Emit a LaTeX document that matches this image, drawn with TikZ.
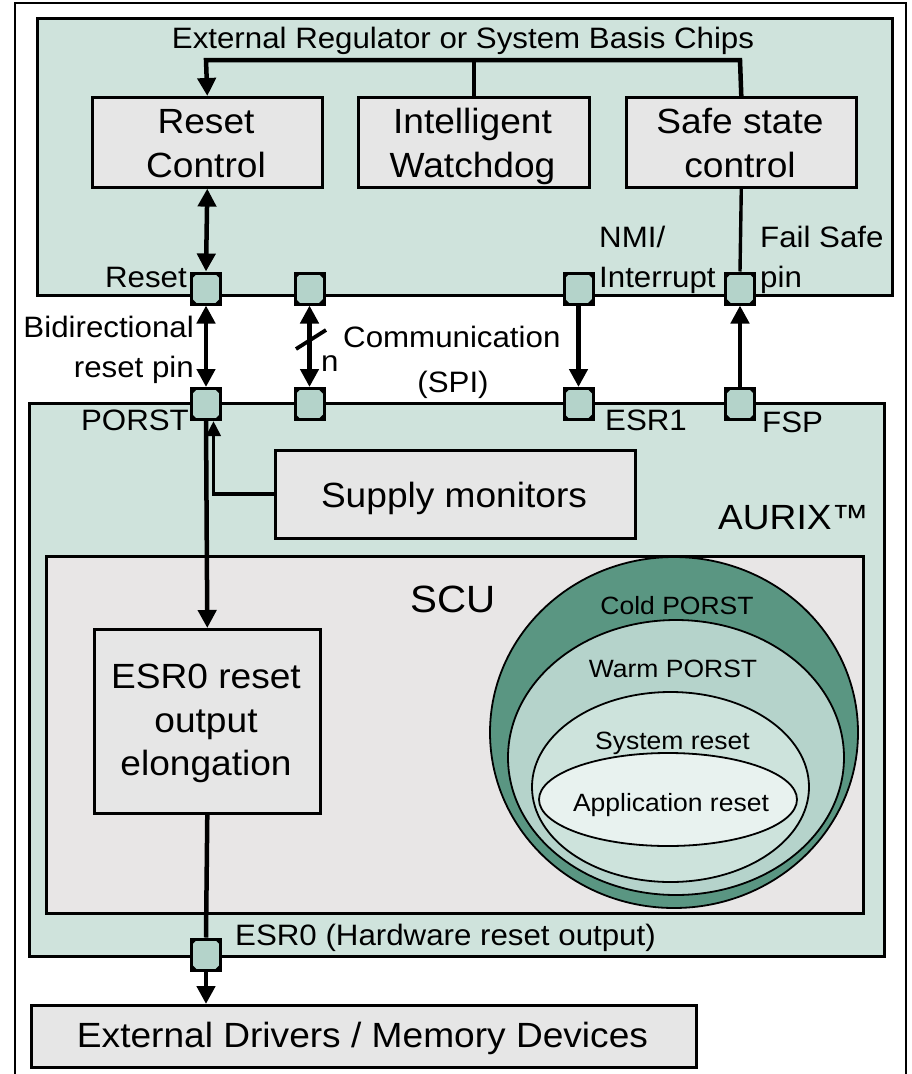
\documentclass[tikz,border=0pt]{standalone}
\usepackage{fontspec}
\setmainfont{Liberation Sans}[FakeStretch=1.06]
\usetikzlibrary{arrows.meta,shapes.geometric}
\definecolor{panel}{HTML}{CFE3DC}
\definecolor{boxg}{HTML}{E6E6E6}
\definecolor{scug}{HTML}{E8E6E6}
\definecolor{pinf}{HTML}{B4D3CA}
\definecolor{cold}{HTML}{5A9682}
\definecolor{warm}{HTML}{B5D3CB}
\definecolor{sysr}{HTML}{CDE3DC}
\definecolor{appr}{HTML}{E8F2EF}
\newcommand{\fsB}{\fontsize{35}{42}\selectfont}
\newcommand{\fsL}{\fontsize{29.5}{35}\selectfont}
\newcommand{\fsC}{\fontsize{25}{30}\selectfont}
\newcommand{\fsS}{\fontsize{38}{44}\selectfont}
\begin{document}
\begin{tikzpicture}[x=1pt,y=-1pt,
  panelbox/.style={draw=black,line width=2.6pt,fill=panel,inner sep=0pt,anchor=north west},
  graybox/.style={draw=black,line width=2.6pt,fill=boxg,inner sep=0pt,anchor=north west},
  pinbox/.style={draw=black,line width=3pt,fill=pinf,inner sep=0pt,minimum width=29pt,minimum height=31pt,
    path picture={
      \fill[black] (path picture bounding box.north west) -- ++(6,0) -- ++(-6,6) -- cycle;
      \fill[black] (path picture bounding box.north east) -- ++(-6,0) -- ++(6,6) -- cycle;
      \fill[black] (path picture bounding box.south west) -- ++(6,0) -- ++(-6,-6) -- cycle;
      \fill[black] (path picture bounding box.south east) -- ++(-6,0) -- ++(6,-6) -- cycle;}},
  ring/.style={ellipse,draw=black,line width=1.8pt,inner sep=0pt},
  txt/.style={inner sep=0pt,anchor=base},
  arr/.style={line width=4.5pt,-{Triangle[length=18pt,width=18pt]}},
  sarr/.style={line width=3.8pt,-{Triangle[length=15pt,width=14pt]}},
  dbl/.style={line width=4.5pt,{Triangle[length=18pt,width=18pt]}-{Triangle[length=18pt,width=18pt]}},
  wire/.style={line width=3.4pt}
]
\useasboundingbox (0,0) rectangle (912,1074);
\fill[white] (0,0) rectangle (912,1074);
% outer frame
\draw[line width=2.4pt] (15,1080) -- (15,3) -- (906,3) -- (906,1080);

% panels
\node[panelbox,minimum width=855pt,minimum height=553pt] (aurix) at (28,402) {};
\node[panelbox,minimum width=855pt,minimum height=277pt] (ext_reg) at (36,17) {};
\node[graybox,fill=scug,minimum width=817pt,minimum height=357pt] (scu) at (45,555) {};

% reset rings
\node[ring,fill=cold,minimum width=368pt,minimum height=351pt] (cold) at (674,732.5) {};
\node[ring,fill=warm,minimum width=336pt,minimum height=275pt] (warm) at (676,757.5) {};
\node[ring,fill=sysr,minimum width=277pt,minimum height=190pt] (sys) at (670.5,787) {};
\node[ring,fill=appr,minimum width=258pt,minimum height=93pt] (app) at (668,799.5) {};

% boxes
\node[graybox,minimum width=230pt,minimum height=90pt] (rc) at (91,96) {};
\node[graybox,minimum width=231pt,minimum height=90pt] (wd) at (357,96) {};
\node[graybox,minimum width=230pt,minimum height=90pt] (ss) at (625,96) {};
\node[graybox,minimum width=360pt,minimum height=88pt] (sm) at (274,449) {};
\node[graybox,minimum width=226pt,minimum height=184pt] (eb) at (93,628) {};
\node[graybox,minimum width=665pt,minimum height=62pt] (ext) at (30,1004) {};

% pin positions (named)
\node[pinbox] (p1t) at (206,288.5) {};
\node[pinbox] (p2t) at (309.5,288.5) {};
\node[pinbox] (p3t) at (578.5,288.5) {};
\node[pinbox] (p4t) at (740,288.5) {};
\node[pinbox] (p1b) at (206,404) {};
\node[pinbox] (p2b) at (309.5,404) {};
\node[pinbox] (p3b) at (578.5,404) {};
\node[pinbox] (p4b) at (740,404) {};
\node[pinbox] (pe) at (206,954.5) {};

% connectors
\coordinate (busL) at (206,60);
\coordinate (busR) at (740,60);
\coordinate (smk) at (213.5,421);
\draw[arr] (ss.north) -- (busR) -- (busL) -- (rc.north);
\draw[wire] (wd.north) -- (wd.north |- busL);
\draw[dbl] (rc.south) -- (p1t.north);
\draw[wire] (ss.south) -- (p4t.north);
\draw[dbl] (p1t.south) -- (p1b.north);
\draw[dbl] (p2t.south) -- (p2b.north);
\draw[arr] (p3t.south) -- (p3b.north);
\draw[arr] (p4b.north) -- (p4t.south);
\draw[line width=3.8pt] (296,349) -- (326,330);
\draw[arr] (p1b.south) -- (eb.north);
\draw[sarr] (sm.west) -| (smk);
\draw[line width=4.5pt] (eb.south) -- (pe.north);
\draw[arr] (pe.south) -- (pe.south |- ext.north);

% pins on top of wires
\node[pinbox] at (p1t) {};
\node[pinbox] at (p2t) {};
\node[pinbox] at (p3t) {};
\node[pinbox] at (p4t) {};
\node[pinbox] at (p1b) {};
\node[pinbox] at (p2b) {};
\node[pinbox] at (p3b) {};
\node[pinbox] at (p4b) {};
\node[pinbox] at (pe) {};

% texts
\node[txt,font=\fsL] (t1) at (463,48) {External Regulator or System Basis Chips};
\node[txt,font=\fsB] (t2) at (206,133) {Reset};
\node[txt,font=\fsB] (t3) at (206,177) {Control};
\node[txt,font=\fsB] (t4) at (472.5,133) {Intelligent};
\node[txt,font=\fsB] (t5) at (472.5,177) {Watchdog};
\node[txt,font=\fsB] (t6) at (740,133) {Safe state};
\node[txt,font=\fsB] (t7) at (740,177) {control};
\node[txt,font=\fsB] (t8) at (454,507) {Supply monitors};
\node[txt,font=\fsB] (t9) at (206,688) {ESR0 reset};
\node[txt,font=\fsB] (t10) at (206,732) {output};
\node[txt,font=\fsB] (t11) at (206,775) {elongation};
\node[txt,font=\fsB] (t12) at (362.5,1047) {External Drivers / Memory Devices};
\node[txt,font=\fsS] (t13) at (453,612) {SCU};
\node[txt,font=\fsB,anchor=base west] (t14) at (718,529) {AURIX™};

\node[txt,font=\fsL,anchor=base east] (l1) at (187,287) {Reset};
\node[txt,font=\fsL,anchor=base west] (l2) at (599,247) {NMI/};
\node[txt,font=\fsL,anchor=base west] (l3) at (599,287) {Interrupt};
\node[txt,font=\fsL,anchor=base west] (l4) at (760,247) {Fail Safe};
\node[txt,font=\fsL,anchor=base west] (l5) at (760,287) {pin};
\node[txt,font=\fsL,anchor=base east] (l6) at (194,337) {Bidirectional};
\node[txt,font=\fsL,anchor=base east] (l7) at (194,377) {reset pin};
\node[txt,font=\fsL,anchor=base west] (l8) at (343,347) {Communication};
\node[txt,font=\fsL] (l9) at (453,392) {(SPI)};
\node[txt,font=\fsL,anchor=base west] (l10) at (321,371) {n};
\node[txt,font=\fsL,anchor=base east] (l11) at (189,430) {PORST};
\node[txt,font=\fsL,anchor=base west] (l12) at (605,430) {ESR1};
\node[txt,font=\fsL,anchor=base west] (l13) at (762,432) {FSP};
\node[txt,font=\fsL,anchor=base west] (l14) at (235,945) {ESR0 (Hardware reset output)};

\node[txt,font=\fsC] (c1) at (677,614) {Cold PORST};
\node[txt,font=\fsC] (c2) at (673,677) {Warm PORST};
\node[txt,font=\fsC] (c3) at (672.5,749) {System reset};
\node[txt,font=\fsC] (c4) at (671,811) {Application reset};
\end{tikzpicture}
\end{document}
